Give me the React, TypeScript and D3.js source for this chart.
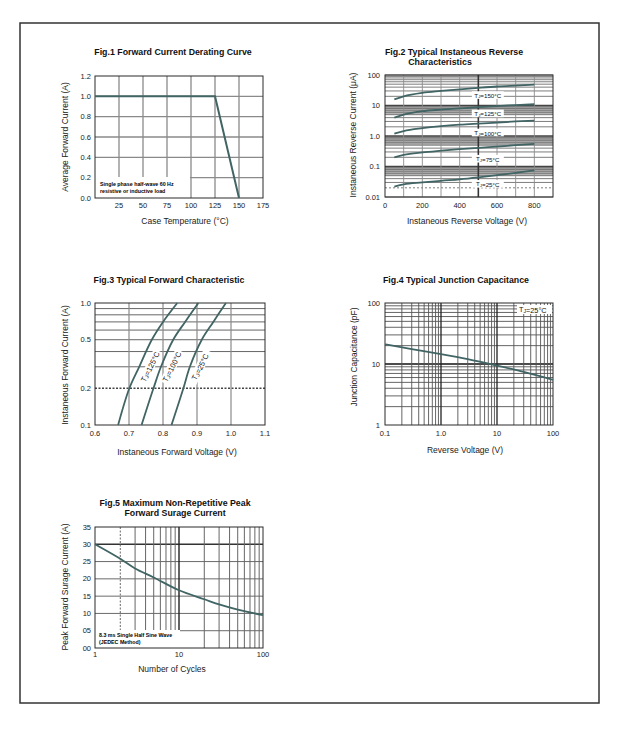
import React from "react";
import * as d3 from "d3";

// Fig.1 forward current derating
const derateTemp = [0, 125, 150];
const derateCurrent = [1.0, 1.0, 0];
const fig1XTicks = [25, 50, 75, 100, 125, 150, 175];
const fig1YTicks = [0, 0.2, 0.4, 0.6, 0.8, 1.0, 1.2];

// Fig.2 reverse characteristics
const revVoltage = [50, 100, 200, 300, 400, 500, 600, 700, 800];
const rev150 = [16, 20, 26, 30, 34, 38, 42, 45, 48];
const rev125 = [4, 5, 6.5, 7.3, 8, 8.8, 9.6, 10.3, 11];
const rev100 = [1.2, 1.45, 1.8, 2.1, 2.35, 2.55, 2.75, 3.0, 3.2];
const rev75 = [0.2, 0.24, 0.29, 0.33, 0.37, 0.41, 0.45, 0.5, 0.55];
const rev25 = [0.022, 0.026, 0.03, 0.034, 0.038, 0.044, 0.052, 0.062, 0.075];
const revTemps = ["150", "125", "100", "75", "25"];
const revLabelAt = [22, 5.5, 1.3, 0.18, 0.027];
const fig2XTicks = [0, 200, 400, 600, 800];
const fig2YTicks = [100, 10, 1, 0.1, 0.01];
const fig2YLabels = ["100", "10", "1.0", "0.1", "0.01"];

// Fig.3 forward characteristic
const fwdCurrent = [0.1, 0.2, 0.3, 0.5, 0.7, 1.0];
const fwd125 = [0.668, 0.701, 0.73, 0.767, 0.8, 0.842];
const fwd100 = [0.737, 0.772, 0.794, 0.83, 0.865, 0.904];
const fwd25 = [0.825, 0.86, 0.879, 0.914, 0.948, 0.985];
const fwdTemps = ["125", "100", "25"];
const fwdLabelX = [0.762, 0.826, 0.909];
const fig3XTicks = [0.6, 0.7, 0.8, 0.9, 1.0, 1.1];
const fig3YTicks = [0.1, 0.2, 0.5, 1.0];

// Fig.4 junction capacitance
const capVoltage = [0.1, 0.3, 1, 3, 10, 30, 100];
const capValue = [21, 17.5, 14.5, 12, 9.4, 7.4, 5.5];
const fig4XTicks = [0.1, 1, 10, 100];
const fig4XLabels = ["0.1", "1.0", "10", "100"];
const fig4YTicks = [1, 10, 100];

// Fig.5 surge current
const surgeCycles = [1, 2, 3, 5, 10, 20, 30, 50, 100];
const surgeCurrent = [30, 25.8, 23, 20.4, 16.7, 14.1, 12.6, 11.1, 9.5];
const fig5XTicks = [1, 10, 100];
const fig5YTicks = [0, 5, 10, 15, 20, 25, 30, 35];
const fig5YLabels = ["00", "05", "10", "15", "20", "25", "30", "35"];

const FONT = "'Liberation Sans', Arial, sans-serif";
const GRID = "#8a8a8a";
const CURVE = "#416464";
const FRAME = "#2a2a2a";

// gridline values 1..9 per decade
function logLines(lo: number, hi: number) {
  const out: number[] = [];
  for (let d = lo; d < hi * 0.999; d *= 10) {
    for (let k = 1; k <= 9; k++) out.push(+(d * k).toPrecision(6));
  }
  out.push(hi);
  return out;
}

const near = (a: number, b: number) => Math.abs(a - b) < 1e-9;

function Tj({ x, y, t, size, anchor = "middle" }: { x: number; y: number; t: string; size: number; anchor?: string }) {
  return (
    <text x={x} y={y} fontSize={size} fontFamily={FONT} fill="#111" textAnchor={anchor} dominantBaseline="central">
      T<tspan fontSize={size * 0.7} dy={size * 0.2}>J</tspan>
      <tspan dy={-size * 0.2}>={t}°C</tspan>
    </text>
  );
}

export default function App() {
  // Fig.1
  const x1 = d3.scaleLinear().domain([0, 175]).range([95, 263]);
  const y1 = d3.scaleLinear().domain([0, 1.2]).range([198, 76]);
  const line1 = d3.line<number>().x((d) => x1(d)).y((_, i) => y1(derateCurrent[i]));

  // Fig.2
  const x2 = d3.scaleLinear().domain([0, 900]).range([385, 553]);
  const y2 = d3.scaleLog().domain([0.01, 100]).range([197, 75]);
  const revSeries = [rev150, rev125, rev100, rev75, rev25];
  const line2 = (vals: number[]) =>
    d3.line<number>().x((d) => x2(d)).y((_, i) => y2(vals[i])).curve(d3.curveMonotoneX)(revVoltage) || "";

  // Fig.3
  const x3 = d3.scaleLinear().domain([0.6, 1.1]).range([95, 265]);
  const y3 = d3.scaleLog().domain([0.1, 1]).range([425, 303]);
  const fwdSeries = [fwd125, fwd100, fwd25];
  const line3 = (vals: number[]) =>
    d3.line<number>().x((_, i) => x3(vals[i])).y((d) => y3(d)).curve(d3.curveCatmullRom.alpha(0.5))(fwdCurrent) || "";

  // Fig.4
  const x4 = d3.scaleLog().domain([0.1, 100]).range([385, 553]);
  const y4 = d3.scaleLog().domain([1, 100]).range([425, 303]);
  const line4 = d3.line<number>().x((d) => x4(d)).y((_, i) => y4(capValue[i])).curve(d3.curveMonotoneX);

  // Fig.5
  const x5 = d3.scaleLog().domain([1, 100]).range([95, 263]);
  const y5 = d3.scaleLinear().domain([0, 35]).range([648, 527]);
  const line5 = d3.line<number>().x((d) => x5(d)).y((_, i) => y5(surgeCurrent[i])).curve(d3.curveCatmullRom.alpha(0.5));

  const tick = { fontSize: 7.5, fontFamily: FONT, fill: "#222" };
  const axisLbl = { fontSize: 8.5, fontFamily: FONT, fill: "#222", textAnchor: "middle" as const };
  const title = { fontSize: 8.8, fontFamily: FONT, fontWeight: 700, fill: "#111", textAnchor: "middle" as const };

  return (
    <svg width={620} height={732} style={{ position: "absolute", left: 0, top: 0, background: "#fff" }}>
      <rect x={0} y={0} width={620} height={732} fill="#fff" />
      <rect x={20} y={23} width={579} height={680} fill="none" stroke="#333" strokeWidth={1.5} />

      {/* ---------- Fig.1 ---------- */}
      <text x={173} y={55} {...title}>Fig.1  Forward Current Derating Curve</text>
      {fig1XTicks.slice(0, -1).map((t) => (
        <line key={t} x1={x1(t)} x2={x1(t)} y1={y1(0)} y2={y1(1.2)} stroke={GRID} strokeWidth={1.3} />
      ))}
      {fig1YTicks.slice(1, -1).map((t) => (
        <line key={t} x1={x1(0)} x2={x1(175)} y1={y1(t)} y2={y1(t)} stroke={GRID} strokeWidth={1.3} />
      ))}
      <rect x={x1(0)} y={177} width={95} height={y1(0) - 177} fill="#fff" />
      <text x={100} y={186} fontSize={5.3} fontWeight={700} fontFamily={FONT}>Single phase half-wave 60 Hz</text>
      <text x={100} y={192.5} fontSize={5.3} fontWeight={700} fontFamily={FONT}>resistive or inductive load</text>
      <rect x={95} y={76} width={168} height={122} fill="none" stroke={FRAME} strokeWidth={1} />
      <path d={line1(derateTemp) || ""} fill="none" stroke={CURVE} strokeWidth={2} />
      {fig1YTicks.map((t) => (
        <text key={t} x={91} y={y1(t)} dy="0.35em" textAnchor="end" {...tick}>{t.toFixed(1)}</text>
      ))}
      {fig1XTicks.map((t) => (
        <text key={t} x={x1(t)} y={208} textAnchor="middle" {...tick}>{t}</text>
      ))}
      <text x={185} y={224} {...axisLbl}>Case Temperature (°C)</text>
      <text transform="translate(68,137) rotate(-90)" {...axisLbl}>Average Forward Current (A)</text>

      {/* ---------- Fig.2 ---------- */}
      <text x={454} y={55} {...title}>Fig.2  Typical Instaneous Reverse</text>
      <text x={440} y={65} {...title}>Characteristics</text>
      {[0.01, 0.1, 1].map((d) => (
        <rect key={d} x={x2(0)} y={y2(d * 10)} width={x2(900) - x2(0)} height={y2(d * 5) - y2(d * 10)} fill="#b4b4b4" />
      ))}
      {logLines(0.01, 100).map((t) => {
        const major = [0.1, 1, 10].some((v) => near(v, t));
        return (
          <line key={t} x1={x2(0)} x2={x2(900)} y1={y2(t)} y2={y2(t)}
            stroke={major ? "#444" : "#6e6e6e"} strokeWidth={major ? 1.4 : 0.9}
            strokeDasharray={near(t, 0.02) ? "2,2" : undefined} />
        );
      })}
      {[100, 200, 300, 400, 500, 600, 700, 800].map((t) => (
        <line key={t} x1={x2(t)} x2={x2(t)} y1={y2(0.01)} y2={y2(100)}
          stroke={t === 500 ? "#333" : "#8c8c8c"} strokeWidth={t === 500 ? 1.6 : 0.9} />
      ))}
      <rect x={385} y={75} width={168} height={122} fill="none" stroke={FRAME} strokeWidth={1} />
      {revSeries.map((s, i) => (
        <path key={i} d={line2(s)} fill="none" stroke={CURVE} strokeWidth={1.8} />
      ))}
      {revTemps.map((t, i) => (
        <g key={t}>
          <rect x={x2(465)} y={y2(revLabelAt[i]) - 3.8} width={32} height={7.6} fill="#fff" />
          <Tj x={x2(465) + 16} y={y2(revLabelAt[i])} t={t} size={6.2} />
        </g>
      ))}
      {fig2YTicks.map((t, i) => (
        <text key={t} x={380} y={y2(t)} dy="0.35em" textAnchor="end" {...tick}>{fig2YLabels[i]}</text>
      ))}
      {fig2XTicks.map((t) => (
        <text key={t} x={x2(t)} y={208} textAnchor="middle" {...tick}>{t}</text>
      ))}
      <text x={467} y={224} {...axisLbl}>Instaneous Reverse Voltage (V)</text>
      <text transform="translate(356,135) rotate(-90)" {...axisLbl}>Instaneous Reverse Current (μA)</text>

      {/* ---------- Fig.3 ---------- */}
      <text x={169} y={283} {...title}>Fig.3  Typical Forward Characteristic</text>
      {logLines(0.1, 1).slice(1, -1).map((t) => (
        <line key={t} x1={x3(0.6)} x2={x3(1.1)} y1={y3(t)} y2={y3(t)}
          stroke={near(t, 0.2) ? "#444" : "#666"} strokeWidth={near(t, 0.2) ? 1.5 : 1}
          strokeDasharray={near(t, 0.2) ? "2,1.5" : undefined} />
      ))}
      {fig3XTicks.slice(1, -1).map((t) => (
        <line key={t} x1={x3(t)} x2={x3(t)} y1={y3(0.1)} y2={y3(1)} stroke={GRID} strokeWidth={1.2} />
      ))}
      <rect x={95} y={303} width={170} height={122} fill="none" stroke={FRAME} strokeWidth={1} />
      {fwdSeries.map((s, i) => (
        <path key={i} d={line3(s)} fill="none" stroke={CURVE} strokeWidth={1.8} />
      ))}
      {fwdTemps.map((t, i) => (
        <g key={t} transform={`translate(${x3(fwdLabelX[i])},${y3(0.3)}) rotate(-64)`}>
          <rect x={-18} y={-4.5} width={36} height={9} fill="#fff" />
          <Tj x={0} y={0} t={t} size={7.5} />
        </g>
      ))}
      {fig3YTicks.map((t) => (
        <text key={t} x={91} y={y3(t)} dy="0.35em" textAnchor="end" {...tick}>{t.toFixed(1)}</text>
      ))}
      {fig3XTicks.map((t) => (
        <text key={t} x={x3(t)} y={436} textAnchor="middle" {...tick}>{t.toFixed(1)}</text>
      ))}
      <text x={177} y={455} {...axisLbl}>Instaneous Forward Voltage (V)</text>
      <text transform="translate(68,365) rotate(-90)" {...axisLbl}>Instaneous Forward Current  (A)</text>

      {/* ---------- Fig.4 ---------- */}
      <text x={456} y={283} {...title}>Fig.4  Typical Junction Capacitance</text>
      {logLines(1, 100).slice(1, -1).map((t) => (
        <line key={t} x1={x4(0.1)} x2={x4(100)} y1={y4(t)} y2={y4(t)}
          stroke={t === 10 ? "#111" : "#555"} strokeWidth={t === 10 ? 1.4 : 0.9} />
      ))}
      {logLines(0.1, 100).slice(1, -1).map((t) => {
        const major = near(t, 1) || near(t, 10);
        return (
          <line key={t} x1={x4(t)} x2={x4(t)} y1={y4(1)} y2={y4(100)}
            stroke={major ? "#222" : "#555"} strokeWidth={major ? 1.3 : 0.9} />
        );
      })}
      <rect x={385} y={303} width={168} height={122} fill="none" stroke={FRAME} strokeWidth={1} />
      <path d={line4(capVoltage) || ""} fill="none" stroke={CURVE} strokeWidth={1.8} />
      <rect x={517} y={305} width={35} height={9} fill="#fff" />
      <Tj x={519} y={309.5} t="25" size={7.3} anchor="start" />
      {fig4YTicks.map((t) => (
        <text key={t} x={380} y={y4(t)} dy="0.35em" textAnchor="end" {...tick}>{t}</text>
      ))}
      {fig4XTicks.map((t, i) => (
        <text key={t} x={x4(t)} y={436} textAnchor="middle" {...tick}>{fig4XLabels[i]}</text>
      ))}
      <text x={465} y={453} {...axisLbl}>Reverse  Voltage (V)</text>
      <text transform="translate(357,357) rotate(-90)" {...axisLbl}>Junction Capacitance (pF)</text>

      {/* ---------- Fig.5 ---------- */}
      <text x={175} y={506} {...title}>Fig.5  Maximum Non-Repetitive Peak</text>
      <text x={175} y={516} {...title}>Forward Surage Current</text>
      {fig5YTicks.slice(1, -1).map((t) => (
        <line key={t} x1={x5(1)} x2={x5(100)} y1={y5(t)} y2={y5(t)}
          stroke={t === 30 ? "#333" : "#6a6a6a"} strokeWidth={t === 30 ? 1.5 : 1} />
      ))}
      {logLines(1, 100).slice(1, -1).map((t) => (
        <line key={t} x1={x5(t)} x2={x5(t)} y1={y5(0)} y2={y5(35)}
          stroke={t === 10 ? "#222" : "#666"} strokeWidth={t === 10 ? 1.4 : 1}
          strokeDasharray={t === 2 ? "2,1.5" : undefined} />
      ))}
      <rect x={95} y={630} width={85} height={18} fill="#fff" />
      <text x={99} y={637} fontSize={5.3} fontWeight={700} fontFamily={FONT}>8.3 ms Single Half Sine Wave</text>
      <text x={99} y={643.5} fontSize={5.3} fontWeight={700} fontFamily={FONT}>(JEDEC Method)</text>
      <rect x={95} y={527} width={168} height={121} fill="none" stroke={FRAME} strokeWidth={1} />
      <path d={line5(surgeCycles) || ""} fill="none" stroke={CURVE} strokeWidth={1.8} />
      {fig5YTicks.map((t, i) => (
        <text key={t} x={91} y={y5(t)} dy="0.35em" textAnchor="end" {...tick}>{fig5YLabels[i]}</text>
      ))}
      {fig5XTicks.map((t) => (
        <text key={t} x={x5(t)} y={657} textAnchor="middle" {...tick}>{t}</text>
      ))}
      <text x={172} y={672} {...axisLbl}>Number of Cycles</text>
      <text transform="translate(68,587) rotate(-90)" {...axisLbl}>Peak Forward Surage Current (A)</text>
    </svg>
  );
}
